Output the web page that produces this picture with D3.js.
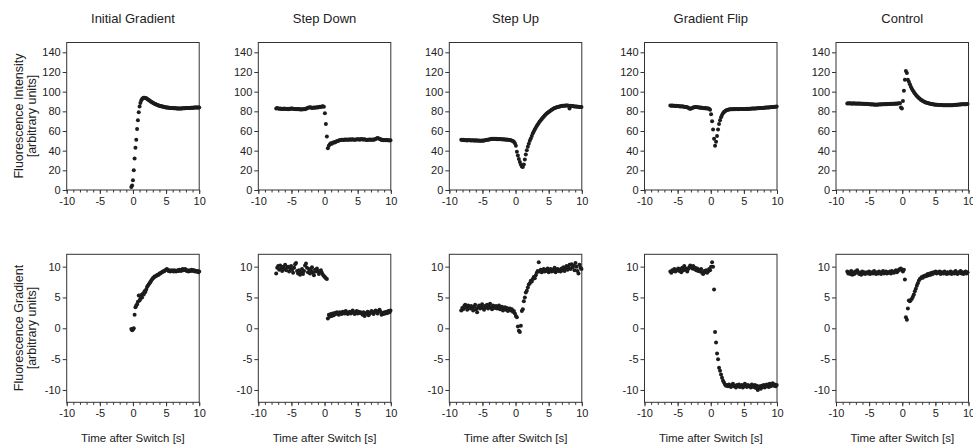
<!DOCTYPE html>
<html>
<head>
<meta charset="utf-8">
<script src="https://cdn.jsdelivr.net/npm/d3@7"></script>
<style>
  html, body { margin: 0; padding: 0; background: #fff; }
  svg text { font-family: "Liberation Sans", Arial, sans-serif; fill: #222; }
</style>
</head>
<body>
<div id="chart"></div>
<script>
// ---- data ----
const panelTitles = ["Initial Gradient", "Step Down", "Step Up", "Gradient Flip", "Control"];
// time of first sample and sampling interval (s) for each column
const startTimes = [-0.25, -7.3, -8.2, -6.1, -8.3];
const timeSteps = [0.125, 0.15, 0.15, 0.15, 0.15];

const xTicks = [-10, -5, 0, 5, 10];
const intensityTicks = [0, 20, 40, 60, 80, 100, 120, 140];
const gradientTicks = [-10, -5, 0, 5, 10];

const intensityInitial = [
  3, 4.5, 10, 20, 32, 43, 51, 62, 71, 79,
  85, 88.5, 91, 92.5, 93.3, 93.7, 93.8, 93.6, 93.2, 92.7,
  92.1, 91.5, 90.9, 90.3, 89.7, 89.2, 88.7, 88.2, 87.8, 87.4,
  87, 86.6, 86.3, 86, 85.7, 85.4, 85.2, 85, 84.8, 84.6,
  84.4, 84.2, 84.0, 83.9, 83.8, 83.7, 83.6, 83.5, 83.4, 83.3,
  83.3, 83.2, 83.2, 83.1, 83.1, 83.0, 83.0, 83.0, 83.0, 83.0,
  83.0, 83.0, 83.1, 83.1, 83.2, 83.2, 83.3, 83.3, 83.4, 83.4,
  83.5, 83.5, 83.6, 83.6, 83.7, 83.7, 83.8, 83.8, 83.9, 83.9,
  84.0, 84.0, 84.0
];
const intensityStepDown = [
  83, 83.3, 82.8, 82.6, 82.9, 82.4, 82.7, 82.5, 82.8, 82.3,
  82.6, 82.4, 82.2, 82.7, 82.5, 82.8, 82.9, 82.6, 82.3, 82.5,
  82.1, 82.4, 82.0, 82.3, 81.9, 82.2, 81.8, 82.0, 82.3, 82.1,
  82.6, 83.1, 83.6, 83.9, 84.1, 83.8, 83.5, 83.7, 84.0, 83.6,
  83.8, 84.2, 84.0, 84.4, 84.7, 84.3, 84.8, 85.2, 84.6,
  78, 67, 54.5, 42.5, 45, 46.5, 47.5, 47, 48, 48.5, 48.3, 49, 49.5, 49.8, 50.3, 50.6, 50.9,
  51.0, 51.2, 50.9, 51.3, 51.1, 51.4, 51.0, 51.2, 51.5, 51.1,
  51.3, 51.6, 51.2, 51.0, 51.4, 51.3, 51.7, 51.5, 51.2, 51.6,
  51.8, 51.4, 51.3, 51.5, 51.1, 50.9, 51.2, 51.0, 51.3, 51.1,
  51.1, 51.3, 51.0, 51.4, 51.8, 52.4, 52.8, 52.5, 52.0, 51.5,
  50.8, 51.0, 50.7, 50.9, 50.6, 50.8, 50.5, 50.7, 50.4, 50.6
];
const intensityStepUp = [
  51.0, 50.8, 51.2, 50.6, 50.9, 50.7, 50.4, 50.8, 50.5, 50.6,
  50.3, 50.7, 50.4, 50.5, 50.2, 50.6, 50.3, 50.1, 50.4, 50.2,
  50.0, 50.3, 50.1, 50.4, 50.6, 50.9, 51.2, 51.0, 51.4, 51.7,
  51.9, 52.1, 51.8, 52.2, 51.9, 52.0, 51.7, 51.9, 51.6, 51.8,
  51.5, 51.7, 51.4, 51.6, 51.3, 51.1, 51.3, 51.0, 50.8, 50.9,
  50.5, 50.2, 49.8, 49.0, 47.5, 45, 39, 35, 31.5, 28.5,
  26, 24, 23.5, 26, 31, 36, 40.5, 44, 47, 50,
  52.5, 55, 57.5, 59.5, 61.5, 63.3, 65, 66.7, 68.2, 69.6,
  71, 72.3, 73.5, 74.6, 75.7, 76.7, 77.7, 78.6, 79.4, 80.2,
  80.9, 81.6, 82.2, 82.8, 83.3, 83.7, 84.1, 84.4, 84.7, 85.0,
  85.2, 85.4, 85.6, 85.7, 85.8, 85.9, 86.0, 85.9, 85.8, 83.0,
  85.6, 85.5, 85.3, 85.2, 85.0, 84.9, 84.8, 84.7, 84.6, 84.5,
  84.5, 84.4
];
const intensityFlip = [
  86.0, 85.8, 85.9, 85.6, 85.7, 85.5, 85.6, 85.3, 85.4, 85.2,
  85.0, 85.1, 84.8, 84.9, 84.6, 84.4, 84.5, 84.1, 83.6, 83.0,
  82.6, 82.9, 83.4, 83.9, 84.2, 84.4, 84.3, 84.1, 84.2, 83.9,
  83.7, 83.8, 83.5, 83.4, 83.2, 83.3, 83.0, 83.1, 82.9, 82.6,
  81.5, 77, 70, 61.5, 52, 45, 49, 55, 61.5, 67,
  71, 74, 76.3, 78, 79.3, 80.2, 80.8, 81.3, 81.6, 81.8, 82.0,
  82.1, 82.2, 82.2, 82.3, 82.2, 82.3, 82.3, 82.2, 82.3, 82.4,
  82.3, 82.4, 82.4, 82.5, 82.4, 82.5, 82.6, 82.5, 82.6, 82.7,
  82.7, 82.8, 82.8, 82.9, 83.0, 83.0, 83.1, 83.2, 83.2, 83.3,
  83.4, 83.5, 83.5, 83.6, 83.7, 83.8, 83.8, 83.9, 84.0, 84.1,
  84.2, 84.3, 84.4, 84.5, 84.6, 84.7, 84.8
];
const intensityControl = [
  88.0, 88.2, 87.9, 88.1, 88.0, 87.8, 88.1, 87.9, 88.0, 87.8,
  88.0, 87.9, 87.7, 87.9, 87.8, 87.6, 87.8, 87.7, 87.5, 87.6,
  87.4, 87.5, 87.3, 87.2, 87.0, 87.1, 86.9, 87.0, 86.8, 86.9,
  86.8, 87.0, 86.9, 87.1, 87.0, 87.2, 87.1, 87.3, 87.2, 87.4,
  87.3, 87.5, 87.4, 87.6, 87.5, 87.7, 87.6, 87.8, 87.7, 87.9,
  87.8, 88.0, 88.1, 88.3,
  84.0, 83.0, 90.5, 101, 112, 121, 119, 112, 110, 107.5,
  105, 103, 101.2, 99.6, 98.2, 96.9, 95.7, 94.6, 93.6, 92.7,
  91.9, 91.2, 90.6, 90.0, 89.5, 89.1, 88.7, 88.4, 88.1, 87.8,
  87.6, 87.4, 87.2, 87.0, 86.9, 86.8,
  86.7, 86.6, 86.5, 86.5, 86.4, 86.4, 86.3, 86.3, 86.2, 86.2,
  86.2, 86.1, 86.1, 86.1, 86.2, 86.2, 86.3, 86.4, 86.5, 86.6,
  86.7, 86.8, 86.9, 87.0, 87.0, 87.1, 87.1, 87.2, 87.2, 87.3, 87.3, 87.4
];

const gradientInitial = [
  -0.1, -0.3, -0.2, 0.0, 2.2, 3.4, 3.7, 3.9, 4.3, 5.3,
  4.5, 4.8, 5.4, 5.0, 5.6, 5.5, 6.0, 5.9, 6.3, 6.7,
  6.9, 7.1, 7.3, 7.5, 7.7, 7.9, 8.1, 8.2, 8.4, 8.4,
  8.5, 8.6, 8.7, 8.7, 8.9, 8.9, 9.0, 9.1, 9.2, 9.2,
  9.3, 9.4, 9.5, 9.6, 9.4, 9.3, 9.4, 9.2, 9.3, 9.4,
  9.3, 9.2, 9.4, 9.3, 9.2, 9.3, 9.4, 9.3, 9.5, 9.4,
  9.3, 9.5, 9.6, 9.4, 9.5, 9.6, 9.4, 9.3, 9.4, 9.2,
  9.3, 9.4, 9.3, 9.5, 9.4, 9.3, 9.4, 9.2, 9.3, 9.2,
  9.3, 9.1, 9.2
];
const gradientStepDown = [
  8.9, 9.8, 10.1, 9.5, 10.2, 9.7, 9.3, 10.0, 9.6, 10.3,
  9.4, 9.9, 10.0, 9.2, 9.7, 10.1, 9.5, 9.0, 9.8, 10.4,
  10.6, 9.3, 8.9, 9.4, 8.7, 9.1, 9.6, 8.8, 9.3, 10.2,
  10.5, 9.8, 9.1, 9.6, 8.9, 9.4, 9.9, 9.0, 8.6, 9.5,
  9.2, 9.7, 9.3, 8.8, 9.1, 9.4, 9.0, 8.7, 8.5, 8.3, 8.1,
  8.0,
  1.6, 2.2, 1.9, 2.3, 2.0, 2.4, 2.1, 2.5, 2.3, 2.6, 2.4, 2.2, 2.6, 2.5,
  2.3, 2.7, 2.5, 2.4, 2.8, 2.6, 2.3, 2.5, 2.7, 2.4,
  2.6, 2.9, 2.5, 2.3, 2.6, 2.8, 2.4, 2.7, 2.5, 2.6,
  2.4, 2.2, 2.6, 2.0, 2.3, 2.5, 2.7, 2.1, 2.4, 2.6,
  2.8, 2.5, 2.3, 2.7, 2.9, 2.6, 2.4, 2.8, 3.0, 2.7,
  2.2, 2.5, 2.3, 2.6, 2.4, 2.7, 2.5, 2.8, 2.6, 2.9
];
const gradientStepUp = [
  2.9, 3.3, 3.1, 3.6, 3.8, 3.4, 3.0, 3.7, 3.5, 3.2,
  3.6, 3.3, 2.9, 3.5, 3.8, 3.1, 2.6, 3.4, 3.7, 3.2,
  3.5, 3.9, 3.3, 3.0, 3.6, 3.4, 3.8, 3.2, 3.5, 4.0,
  3.4, 3.1, 3.7, 3.5, 3.3, 3.6, 3.2, 3.4, 3.7, 3.1,
  3.3, 3.5, 2.9, 3.2, 3.4, 3.0, 3.3, 2.8, 3.1, 3.2,
  2.9, 3.1, 2.7, 2.8, 2.4, 2.0, 1.8, 0.3, -0.4, -0.6,
  0.4, 2.8, 3.1, 4.4, 5.0, 5.8, 6.1, 6.6, 7.1, 7.3,
  7.7, 7.6, 8.0, 8.3, 8.1, 8.6, 9.0, 9.3, 10.7, 9.2,
  9.5, 9.1, 9.4, 9.6, 9.2, 9.5, 9.3, 9.7, 9.1, 9.4,
  9.6, 9.2, 9.5, 9.3, 9.8, 9.1, 9.4, 9.6, 9.3, 9.5,
  9.2, 9.7, 9.4, 9.9, 9.3, 9.6, 10.1, 9.5, 9.8, 10.3,
  9.6, 10.4, 9.9, 10.2, 9.4, 10.6, 10.0, 9.3, 8.9, 10.3,
  9.8, 9.6
];
const gradientFlip = [
  9.2, 9.0, 9.4, 9.3, 9.6, 9.2, 9.5, 9.4, 9.7, 9.3,
  9.6, 9.1, 9.8, 9.4, 10.1, 9.5, 9.7, 9.2, 9.6, 9.9,
  10.2, 10.0, 9.7, 10.1, 9.6, 9.8, 9.4, 9.7, 9.3, 9.5,
  9.2, 9.6, 9.0, 8.8, 9.3, 9.1, 9.4, 9.0, 9.2, 9.6,
  9.4, 10.0, 10.7, 10.0, 6.3, -0.6, -2.3, -4.1, -5.0, -6.4,
  -6.9, -7.5, -8.0, -8.5, -8.8, -9.1, -9.3, -9.2,
  -9.4, -9.1, -9.3, -9.5, -9.2, -9.0, -9.4, -9.3, -9.6, -9.2,
  -9.4, -9.1, -9.5, -9.3, -9.2, -9.6, -9.4, -9.0, -9.3, -9.5,
  -9.2, -9.4, -9.3, -9.6, -9.1, -9.4, -9.5, -9.2, -9.7, -9.3,
  -10.0, -9.6, -9.4, -9.8, -9.3, -9.5, -9.2, -9.6, -9.4, -9.1,
  -9.3, -9.5, -9.0, -9.4, -9.2, -8.9, -9.3, -9.1, -9.4, -9.2
];
const gradientControl = [
  9.2, 8.9, 9.1, 8.8, 9.3, 8.7, 9.0, 8.8, 9.2, 9.0,
  9.4, 9.1, 8.8, 9.0, 8.7, 9.2, 8.9, 9.1, 8.8, 9.0,
  9.1, 8.9, 9.2, 8.8, 9.0, 9.1, 8.9, 9.3, 9.0, 8.8,
  9.1, 8.9, 9.2, 9.0, 8.8, 9.1, 9.3, 8.9, 9.0, 9.2,
  8.9, 9.1, 9.0, 9.2, 8.9, 9.3, 9.1, 9.0, 9.2, 9.4,
  9.1, 9.3, 9.5, 9.6, 9.7, 9.4,
  9.2, 9.5, 7.9, 1.8, 1.4, 3.2, 4.5, 4.4, 4.6, 4.8,
  5.1, 5.5, 6.0, 6.4, 6.9, 7.3, 7.7, 8.0, 8.1, 8.3,
  8.2, 8.5, 8.4, 8.6, 8.5, 8.8, 8.6, 8.9, 8.7, 9.0,
  8.8, 9.1, 9.0, 9.2,
  8.9, 9.1, 9.0, 9.2, 8.8, 9.1, 9.0, 8.9, 9.2, 9.0,
  8.8, 9.1, 8.9, 9.0, 9.2, 8.8, 9.0, 9.1, 8.9, 9.3,
  9.0, 8.8, 9.1, 9.0, 9.3, 8.9, 9.1, 8.8, 9.0, 9.2, 8.9, 9.1
];

const intensity = [intensityInitial, intensityStepDown, intensityStepUp, intensityFlip, intensityControl];
const gradient = [gradientInitial, gradientStepDown, gradientStepUp, gradientFlip, gradientControl];

// ---- layout ----
const width = 973, height = 447;
const colLeft = [66.7, 258.3, 449.3, 644.5, 836];
const plotW = 132.5;

const rows = [
  { top: 42.5, bottom: 190, domain: [0, 150], ticks: intensityTicks, series: intensity,
    label: ["Fluorescence Intensity", "[arbitrary units]"], labelY: 116, xTitle: false },
  { top: 254.3, bottom: 402.3, domain: [-12, 12], ticks: gradientTicks, series: gradient,
    label: ["Fluorescence Gradient", "[arbitrary units]"], labelY: 328, xTitle: true }
];

const svg = d3.select("#chart")
  .append("svg")
  .attr("width", width)
  .attr("height", height);

// column titles
svg.selectAll("text.title")
  .data(panelTitles)
  .enter()
  .append("text")
  .attr("class", "title")
  .attr("x", (d, i) => colLeft[i] + plotW / 2)
  .attr("y", 23)
  .attr("text-anchor", "middle")
  .style("font-size", "13px")
  .text(d => d);

rows.forEach(row => {
  // row label, two lines
  row.label.forEach((line, k) => {
    svg.append("text")
      .attr("transform", `translate(${19 + k * 13},${row.labelY}) rotate(-90)`)
      .attr("text-anchor", "middle")
      .attr("dy", "0.35em")
      .style("font-size", "12.5px")
      .text(line);
  });

  colLeft.forEach((left, c) => {
    const x = d3.scaleLinear().domain([-10, 10]).range([left, left + plotW]);
    const y = d3.scaleLinear().domain(row.domain).range([row.bottom, row.top]);
    const g = svg.append("g");

    // minor ticks on the time axis
    g.append("g")
      .attr("transform", `translate(0,${row.bottom})`)
      .attr("color", "#333")
      .call(d3.axisBottom(x).tickValues(d3.range(-10, 11)).tickSize(2.5).tickSizeOuter(0).tickFormat(""))
      .call(a => a.select(".domain").remove());

    const xAxis = g.append("g")
      .attr("transform", `translate(0,${row.bottom})`)
      .attr("color", "#333")
      .call(d3.axisBottom(x).tickValues(xTicks).tickSize(4).tickSizeOuter(0).tickPadding(3).tickFormat(d => d));
    xAxis.select(".domain").remove();
    xAxis.selectAll("text").style("font-size", "11px").style("font-family", null);

    const yAxis = g.append("g")
      .attr("transform", `translate(${left},0)`)
      .attr("color", "#333")
      .call(d3.axisLeft(y).tickValues(row.ticks).tickSize(4).tickSizeOuter(0).tickPadding(2).tickFormat(d => d));
    yAxis.select(".domain").remove();
    yAxis.selectAll("text").style("font-size", "11px").style("font-family", null);

    // frame
    g.append("rect")
      .attr("x", left)
      .attr("y", row.top)
      .attr("width", plotW)
      .attr("height", row.bottom - row.top)
      .attr("fill", "none")
      .attr("stroke", "#333")
      .attr("stroke-width", 1);

    const t0 = startTimes[c], dt = timeSteps[c];
    g.append("g")
      .selectAll("circle")
      .data(row.series[c].map((v, i) => ({ t: t0 + i * dt, v: v })))
      .enter()
      .append("circle")
      .attr("cx", d => x(d.t))
      .attr("cy", d => y(d.v))
      .attr("r", 2)
      .attr("fill", "#1c1c1c");

    if (row.xTitle) {
      g.append("text")
        .attr("x", left + plotW / 2)
        .attr("y", 442)
        .attr("text-anchor", "middle")
        .style("font-size", "11.5px")
        .text("Time after Switch [s]");
    }
  });
});
</script>
</body>
</html>
